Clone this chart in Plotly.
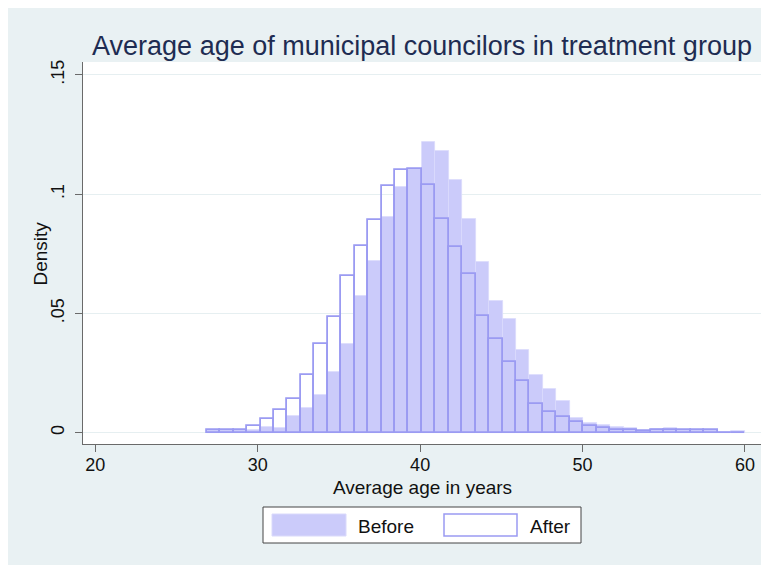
import plotly.graph_objects as go

# ---- data ----
bin_centers = [27.274, 28.102, 28.93, 29.758, 30.586, 31.414, 32.242, 33.07, 33.898, 34.726,
               35.554, 36.382, 37.21, 38.038, 38.866, 39.694, 40.522, 41.35, 42.178, 43.006,
               43.834, 44.662, 45.49, 46.318, 47.146, 47.974, 48.802, 49.63, 50.458, 51.286,
               52.114, 52.942, 53.77, 54.598, 55.426, 56.254, 57.082, 57.91, 58.738, 59.566]
bin_width = 0.828

before = [0.0010, 0.0010, 0.0010, 0.0012, 0.0022, 0.0020, 0.0069, 0.0104, 0.0157, 0.0255,
          0.0370, 0.0572, 0.0719, 0.0906, 0.1031, 0.1106, 0.1217, 0.1182, 0.1059, 0.0894,
          0.0714, 0.0550, 0.0475, 0.0345, 0.0240, 0.0182, 0.0133, 0.0060, 0.0041, 0.0030,
          0.0024, 0.0018, 0.0008, 0.0015, 0.0018, 0.0012, 0.0012, 0.0009, 0.0003, 0.0008]

after = [0.0010, 0.0010, 0.0010, 0.0026, 0.0055, 0.0096, 0.0142, 0.0240, 0.0370, 0.0486,
         0.0656, 0.0783, 0.0890, 0.1035, 0.1102, 0.1106, 0.1039, 0.0895, 0.0778, 0.0666,
         0.0491, 0.0392, 0.0298, 0.0216, 0.0121, 0.0086, 0.0064, 0.0045, 0.0027, 0.0018,
         0.0013, 0.0012, 0.0008, 0.0011, 0.0011, 0.0010, 0.0010, 0.0009, 0.0, 0.0]

x_ticks = [20, 30, 40, 50, 60]
x_tick_labels = ["20", "30", "40", "50", "60"]
y_ticks = [0, 0.05, 0.1, 0.15]
y_tick_labels = ["0", ".05", ".1", ".15"]

title_text = "Average age of municipal councilors in treatment group"
x_title = "Average age in years"
y_title = "Density"
legend_labels = ["Before", "After"]

# ---- styles / layout (window pixel coordinates; page body has an 8px margin) ----
OFF = 8
W, H = 769 - OFF, 565 - OFF
PL, PR, PT, PB = 83, 762, 62, 444          # plot area edges in window px
BG = "#E9F1F3"
FILL = "#CBCBFA"
FILL_EDGE = "#DADAFB"
OUTLINE = "#9B9BF2"
FONT = "Liberation Sans, Arial, Helvetica, sans-serif"
TXT = "#111111"


def px(xw):
    return (xw - PL) / (PR - PL)


def py(yw):
    return (PB - yw) / (PB - PT)


fig = go.Figure()
fig.add_trace(go.Bar(
    x=bin_centers, y=before, width=bin_width, name=legend_labels[0],
    marker=dict(color=FILL, line=dict(color=FILL_EDGE, width=0.8)),
    showlegend=False,
))
fig.add_trace(go.Bar(
    x=bin_centers, y=after, width=bin_width, name=legend_labels[1],
    marker=dict(color="rgba(0,0,0,0)", line=dict(color=OUTLINE, width=1.8)),
    showlegend=False,
))

shapes = [
    # legend box
    dict(type="rect", xref="paper", yref="paper", x0=px(263), x1=px(581), y0=py(543), y1=py(507),
         fillcolor="white", line=dict(color="#444444", width=1)),
    dict(type="rect", xref="paper", yref="paper", x0=px(272), x1=px(346), y0=py(536), y1=py(514),
         fillcolor=FILL, line=dict(color=FILL_EDGE, width=1)),
    dict(type="rect", xref="paper", yref="paper", x0=px(444), x1=px(517), y0=py(536), y1=py(514),
         fillcolor="white", line=dict(color=OUTLINE, width=1.5)),
]

annotations = [
    dict(text=legend_labels[0], xref="paper", yref="paper", x=px(356), y=py(526),
         xanchor="left", yanchor="middle", showarrow=False,
         font=dict(family=FONT, size=19, color=TXT)),
    dict(text=legend_labels[1], xref="paper", yref="paper", x=px(528), y=py(526),
         xanchor="left", yanchor="middle", showarrow=False,
         font=dict(family=FONT, size=19, color=TXT)),
    dict(text=y_title, xref="paper", yref="paper", x=px(39.5), y=py(254),
         xanchor="center", yanchor="middle", textangle=-90, showarrow=False,
         font=dict(family=FONT, size=19, color=TXT)),
]

fig.update_layout(
    width=W, height=H,
    margin=dict(l=PL - OFF, r=769 - PR, t=PT - OFF, b=565 - PB),
    paper_bgcolor=BG, plot_bgcolor="white",
    barmode="overlay", bargap=0,
    showlegend=False,
    title=dict(text=title_text, xref="container", yref="container",
               x=(422 - OFF) / W, y=1 - (46 - OFF) / H, xanchor="center", yanchor="middle",
               font=dict(family=FONT, size=27, color="#1E2C52")),
    shapes=shapes, annotations=annotations,
    font=dict(family=FONT, color=TXT),
)

fig.update_xaxes(
    range=[19.243, 61.047], tickvals=x_ticks, ticktext=x_tick_labels,
    showgrid=False, zeroline=False,
    showline=True, linecolor="#6A6A6A", linewidth=1.2,
    ticks="outside", ticklen=7, tickcolor="#6A6A6A", tickwidth=1.2,
    ticklabelstandoff=-3,
    tickfont=dict(family=FONT, size=18, color=TXT),
    title=dict(text=x_title, font=dict(family=FONT, size=19, color=TXT), standoff=6),
)
fig.update_yaxes(
    range=[-0.00478, 0.15545], tickvals=y_ticks, ticktext=y_tick_labels,
    showgrid=True, gridcolor="#E6EFF1", gridwidth=1, zeroline=False,
    showline=True, linecolor="#6A6A6A", linewidth=1.2,
    ticks="outside", ticklen=7, tickcolor="#6A6A6A", tickwidth=1.2,
    tickangle=-90, ticklabelstandoff=4,
    tickfont=dict(family=FONT, size=18, color=TXT),
)

fig.write_html("out.html")
